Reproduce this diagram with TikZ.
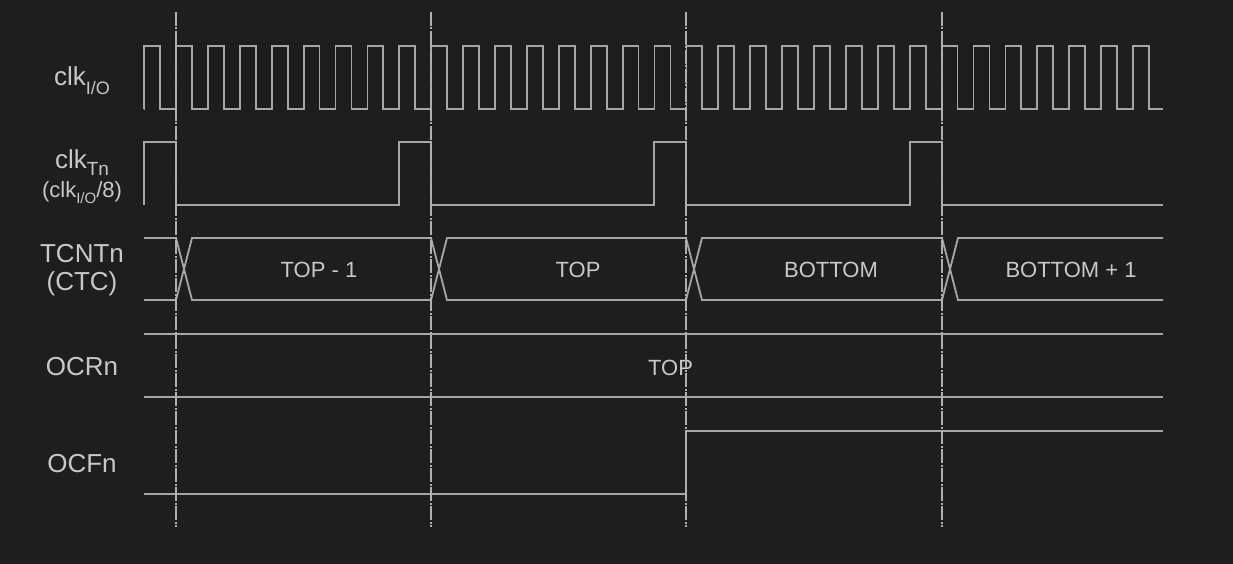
\documentclass[tikz,border=0pt]{standalone}
\usepackage{fontspec}
\setmainfont{Liberation Sans}
\definecolor{bgc}{HTML}{1E1E1E}
\definecolor{sigc}{HTML}{A6A6A6}
\definecolor{txtc}{HTML}{C8C8C8}
\definecolor{dashc}{HTML}{B0B0B0}
\newcommand\tdsub[3]{\raisebox{-#2}{\fontsize{#3}{#3}\selectfont #1}}
\begin{document}
\begin{tikzpicture}[x=1pt,y=-1pt,
  sig/.style={draw=sigc,line width=1.8pt,line join=miter},
  guide/.style={draw=dashc,line width=1.4pt,dash pattern=on 14pt off 1.5pt on 2pt off 1.5pt},
  lbl/.style={text=txtc,anchor=base,inner sep=0pt,font=\fontsize{26}{28}\selectfont},
  lblsm/.style={text=txtc,anchor=base,inner sep=0pt,font=\fontsize{22}{24}\selectfont},
  val/.style={text=txtc,anchor=base,inner sep=0pt,font=\fontsize{22}{24}\selectfont}]
\fill[bgc] (0,0) rectangle (1233,564);
\useasboundingbox (0,0) rectangle (1233,564);

% labels
\node[lbl] (lclkio) at (82,86) {clk\tdsub{I/O}{9pt}{18}};
\node[lbl] (lclktn) at (82,168) {clk\tdsub{Tn}{7pt}{19}};
\node[lblsm] (ldiv) at (82,197) {(clk\tdsub{I/O}{6pt}{15}/8)};
\node[lbl] (ltcnt) at (82,262) {TCNTn};
\node[lbl] (lctc) at (82,290) {(CTC)};
\node[lbl] (locr) at (82,375) {OCRn};
\node[lbl] (locf) at (82,472) {OCFn};

% clk I/O
\draw[sig] (144,109) foreach \k in {-1,...,30} {
  -- ({176+\k*31.9},109) -- ({176+\k*31.9},46) -- ({176+\k*31.9+15.9},46) -- ({176+\k*31.9+15.9},109) } -- (1163,109);

% clk Tn
\draw[sig] (144,205) -- (144,142) -- (176,142) -- (176,205)
  -- (399,205) -- (399,142) -- (431,142) -- (431,205)
  -- (654,205) -- (654,142) -- (686,142) -- (686,205)
  -- (910,205) -- (910,142) -- (942,142) -- (942,205) -- (1163,205);

% TCNTn bus
\draw[sig] (144,238) -- (176,238) -- (192,300) -- (431,300) -- (447,238) -- (686,238) -- (702,300) -- (942,300) -- (958,238) -- (1163,238);
\draw[sig] (144,300) -- (176,300) -- (192,238) -- (431,238) -- (447,300) -- (686,300) -- (702,238) -- (942,238) -- (958,300) -- (1163,300);
\node[val] (v1) at (319,277) {TOP - 1};
\node[val] (v2) at (578,277) {TOP};
\node[val] (v3) at (831,277) {BOTTOM};
\node[val] (v4) at (1071,277) {BOTTOM + 1};

% OCRn
\draw[sig] (144,334) -- (1163,334);
\draw[sig] (144,397) -- (1163,397);
\node[val] (v5) at (670.5,375) {TOP};

% OCFn
\draw[sig] (144,494) -- (686,494) -- (686,431) -- (1163,431);

% guides
\foreach \gx/\nm in {176/ga,431/gb,686/gc,942/gd} {
  \coordinate (\nm top) at (\gx,12);
  \coordinate (\nm bot) at (\gx,527);
  \draw[guide] (\nm top) -- (\nm bot);
}
\end{tikzpicture}
\end{document}
